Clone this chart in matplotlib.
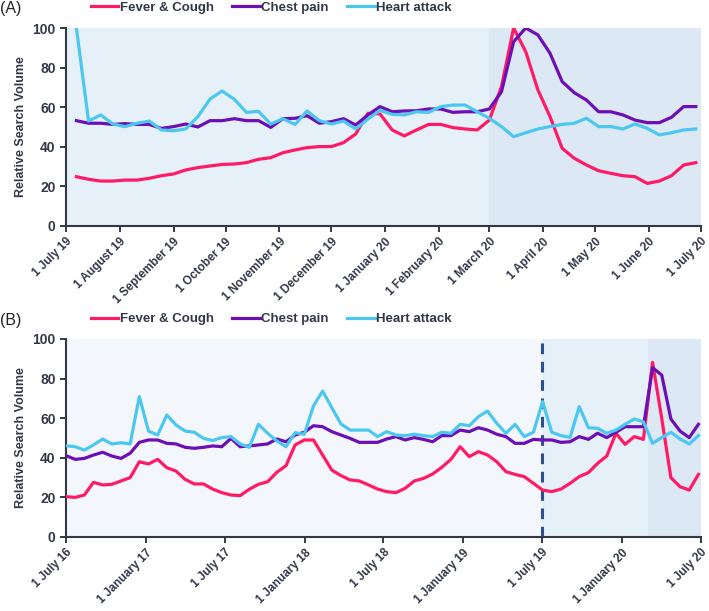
import numpy as np
import pandas as pd
import matplotlib
matplotlib.use("Agg")
import matplotlib.pyplot as plt
import matplotlib.dates as mdates

# ---------------------------------------------------------------- data
# panel A: weekly, 7 July 2019 .. 28 June 2020
weeks_a = pd.date_range("2019-07-07", periods=52, freq="7D")
fever_a = [24.9, 23.6, 22.7, 22.7, 23.2, 23.2, 24.1, 25.4, 26.3, 28.3,
           29.5, 30.3, 31.1, 31.3, 32.0, 33.7, 34.5, 37.0, 38.4, 39.6,
           40.1, 40.1, 42.1, 46.5, 56.9, 56.6, 48.5, 45.5, 48.5, 51.3,
           51.3, 49.7, 49.0, 48.5, 53.5, 70.4, 100.0, 88.0, 68.7, 55.2,
           39.2, 34.2, 30.8, 27.9, 26.6, 25.4, 24.9, 21.5, 22.7, 25.4,
           30.8, 32.0]
chest_a = [53.2, 51.9, 51.9, 51.3, 51.7, 51.3, 51.3, 49.3, 50.2, 51.5,
           50.0, 53.2, 53.2, 54.2, 53.2, 53.2, 49.8, 54.2, 54.4, 55.7,
           51.9, 52.7, 54.2, 51.0, 56.1, 60.3, 57.7, 58.1, 58.2, 59.1,
           59.1, 57.4, 57.7, 57.7, 59.1, 67.8, 93.1, 100.0, 96.5, 87.2,
           72.9, 67.3, 63.6, 57.7, 57.7, 56.1, 53.5, 52.2, 52.2, 54.9,
           60.3, 60.3]
heart_a = [100.0, 53.0, 56.1, 51.5, 50.2, 51.9, 53.0, 48.5, 48.1, 49.0,
           55.2, 64.1, 68.2, 64.0, 57.4, 57.9, 51.5, 54.2, 51.3, 58.1,
           53.2, 51.5, 53.0, 49.0, 54.0, 58.4, 56.4, 56.1, 57.7, 57.4,
           60.3, 61.1, 61.1, 57.7, 54.4, 50.2, 45.1, 47.1, 49.0, 50.2,
           51.3, 51.9, 54.4, 50.2, 50.2, 49.0, 51.5, 49.3, 46.0, 47.1,
           48.5, 49.0]

# panel B: 70 samples, 1 July 2016 .. late June 2020
dates_b = pd.date_range("2016-07-01", "2020-06-25", periods=70)
fever_b = [20.4, 20.0, 21.2, 27.6, 26.3, 26.6, 28.3, 30.0, 38.0, 36.9,
           39.2, 35.0, 33.3, 29.1, 26.8, 26.8, 24.2, 22.4, 21.2, 20.9,
           24.1, 26.6, 27.9, 32.7, 36.0, 46.5, 49.0, 49.0, 41.4, 33.8,
           31.0, 28.8, 28.3, 26.3, 24.2, 22.9, 22.4, 24.6, 28.3, 29.6,
           31.8, 35.2, 39.2, 45.6, 40.6, 43.1, 41.4, 38.0, 33.0, 31.6,
           30.5, 27.1, 23.7, 22.9, 24.2, 27.1, 30.5, 32.5, 37.2, 40.9,
           52.4, 46.8, 50.7, 49.3, 88.2, 59.9, 30.0, 25.4, 23.7, 31.6]
chest_b = [41.1, 39.2, 39.7, 41.4, 42.8, 40.9, 39.7, 42.3, 47.8, 49.0,
           49.0, 47.3, 47.0, 45.3, 44.8, 45.3, 46.0, 45.6, 49.8, 45.6,
           46.0, 46.5, 47.0, 49.5, 48.1, 51.5, 52.9, 56.2, 55.7, 53.2,
           51.5, 49.8, 47.8, 47.8, 47.8, 49.5, 50.7, 49.0, 50.2, 49.3,
           48.1, 51.2, 51.2, 54.0, 53.2, 55.2, 54.0, 51.9, 50.7, 47.3,
           47.3, 49.3, 49.0, 49.0, 47.8, 48.1, 50.7, 49.3, 52.4, 50.2,
           52.9, 55.7, 55.7, 55.7, 85.5, 81.8, 59.6, 53.5, 50.2, 56.9]
heart_b = [46.1, 45.6, 43.9, 46.5, 49.5, 47.0, 47.6, 47.0, 70.9, 53.5,
           51.5, 61.6, 56.6, 53.5, 52.9, 49.8, 48.7, 50.2, 50.7, 47.0,
           45.3, 56.9, 52.4, 48.5, 45.6, 52.7, 51.9, 66.2, 73.7, 65.3,
           57.1, 54.0, 54.0, 54.0, 50.7, 53.2, 51.5, 51.2, 51.9, 51.2,
           50.7, 52.9, 52.4, 56.9, 56.2, 60.8, 63.6, 57.4, 52.4, 56.9,
           50.7, 52.9, 68.4, 52.9, 51.2, 50.3, 65.8, 55.2, 54.9, 52.4,
           54.0, 56.9, 59.6, 58.2, 47.3, 50.2, 52.9, 49.5, 47.0, 51.2]

ticks_a = pd.date_range("2019-07-01", "2020-07-01", freq="MS")
ticks_b = pd.date_range("2016-07-01", "2020-07-01", freq="6MS")

# ---------------------------------------------------------------- style
PINK = "#FF1A66"
PURPLE = "#6C0FB5"
CYAN = "#4CC7F0"
INK = "#333848"
SHADE0 = "#F3F7FB"
SHADE1 = "#E6F0F9"
SHADE2 = "#DCE8F4"

plt.rcParams.update({
    "font.family": ["Liberation Sans", "DejaVu Sans"],
    "font.size": 9,
})

fig = plt.figure(figsize=(7.09, 6.11), dpi=100)
ax_a = fig.add_axes([66 / 709, 1 - 226 / 611, 635 / 709, 198 / 611])
ax_b = fig.add_axes([66 / 709, 1 - 537 / 611, 635 / 709, 198 / 611])


def style(ax, ticks, labels, start, end):
    ax.set_xlim(start, end)
    ax.set_ylim(0, 100)
    ax.set_yticks(range(0, 101, 20))
    ax.set_xticks(ticks)
    ax.set_xticklabels(labels, rotation=45, ha="right",
                       rotation_mode="anchor", fontweight="bold",
                       fontsize=8.5, color=INK)
    for lab in ax.get_yticklabels():
        lab.set_fontweight("bold")
        lab.set_fontsize(10)
        lab.set_color(INK)
    ax.tick_params(axis="both", colors=INK, width=1.4, length=4)
    ax.tick_params(axis="x", pad=3)
    for sp in ("top", "right"):
        ax.spines[sp].set_visible(False)
    for sp in ("left", "bottom"):
        ax.spines[sp].set_color(INK)
        ax.spines[sp].set_linewidth(1.5)
    ax.set_ylabel("Relative Search Volume", fontweight="bold",
                  fontsize=9, color=INK)
    ax.yaxis.set_label_coords(-0.062, 0.5)


def lines(ax, x, f, c, h):
    ax.plot(x, f, color=PINK, lw=2.3, label="Fever & Cough", zorder=3)
    ax.plot(x, c, color=PURPLE, lw=2.3, label="Chest pain", zorder=3)
    ax.plot(x, h, color=CYAN, lw=2.3, label="Heart attack", zorder=3)


# ---- panel A
a0, a1 = pd.Timestamp("2019-07-01"), pd.Timestamp("2020-07-01")
mar20 = pd.Timestamp("2020-03-01")
ax_a.axvspan(a0, mar20, color=SHADE1, lw=0, zorder=0)
ax_a.axvspan(mar20, a1, color=SHADE2, lw=0, zorder=0)
lines(ax_a, weeks_a, fever_a, chest_a, heart_a)
style(ax_a, ticks_a, [f"1 {d.strftime('%B')} {d.strftime('%y')}" for d in ticks_a], a0, a1)

# ---- panel B
b0, b1 = pd.Timestamp("2016-07-01"), pd.Timestamp("2020-07-01")
jul19 = pd.Timestamp("2019-07-01")
ax_b.axvspan(b0, jul19, color=SHADE0, lw=0, zorder=0)
ax_b.axvspan(jul19, mar20, color=SHADE1, lw=0, zorder=0)
ax_b.axvspan(mar20, b1, color=SHADE2, lw=0, zorder=0)
ax_b.axvline(jul19, color="#2F4F8F", lw=2.2, ls=(0, (3.5, 2.5)), zorder=2)
lines(ax_b, dates_b, fever_b, chest_b, heart_b)
style(ax_b, ticks_b, [f"1 {d.strftime('%B')} {d.strftime('%y')}" for d in ticks_b], b0, b1)

# ---- legends + panel tags
for ax, yc in ((ax_a, 1 - 8 / 611), (ax_b, 1 - 319 / 611)):
    leg = ax.legend(loc="center left", bbox_to_anchor=(84 / 709, yc),
                    bbox_transform=fig.transFigure, ncol=3, frameon=False,
                    borderpad=0, handlelength=2.1, handletextpad=0.1,
                    columnspacing=1.4, prop={"weight": "bold", "size": 9.5})
    for t in leg.get_texts():
        t.set_color(INK)

fig.text(0.0, 1 - 9 / 611, "(A)", fontsize=11.5, color="#222222",
         ha="left", va="center")
fig.text(0.0, 1 - 320 / 611, "(B)", fontsize=11.5, color="#222222",
         ha="left", va="center")

fig.savefig("out.png", dpi=100, facecolor="white")
